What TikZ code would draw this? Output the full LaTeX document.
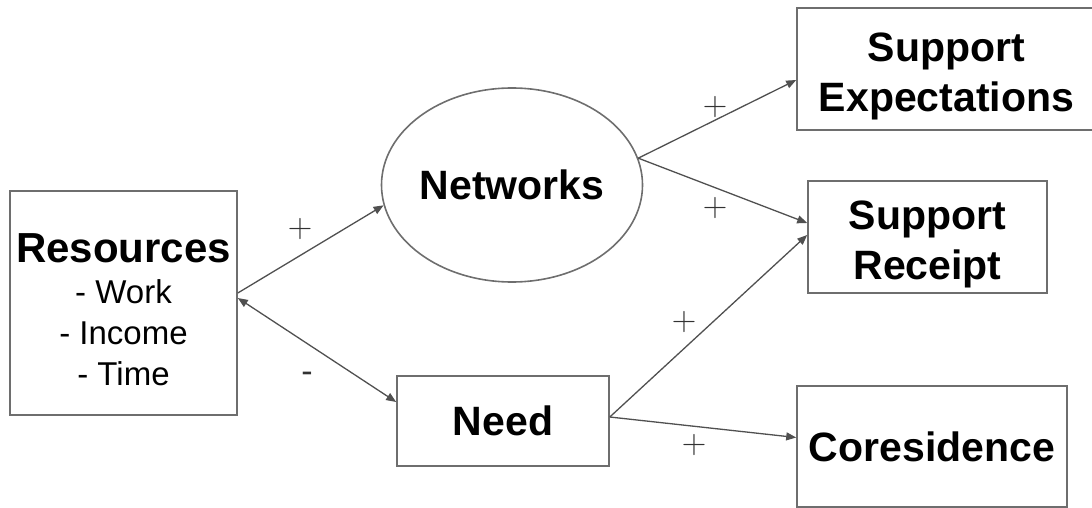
\documentclass[tikz,border=0pt]{standalone}
\usepackage{fontspec}
\setmainfont{Liberation Sans}
\newfontfamily\signfont{Latin Modern Roman}
\usetikzlibrary{arrows.meta,shapes.geometric}

\begin{document}
\begin{tikzpicture}[x=1pt,y=1pt,yscale=-1,xscale=1,
  box/.style={draw={rgb, 255:red, 110; green, 110; blue, 110 },line width=1.6pt,inner sep=0pt,align=center,
    font=\fontsize{41}{50}\selectfont\bfseries},
  lnk/.style={draw={rgb, 255:red, 80; green, 80; blue, 80 },line width=1.3pt,-{Triangle[length=10pt,width=8pt]}},
  sgn/.style={inner sep=0pt,font=\signfont\fontsize{34}{34}\selectfont,text={rgb, 255:red, 50; green, 50; blue, 50 }}]
\useasboundingbox (0,0) rectangle (1092,508);

%Shape: Rectangle [resources]
\node[box,minimum width=227pt,minimum height=224pt,font=\fontsize{33}{41}\selectfont] (res) at (123.5,303)
  {\rule{0pt}{42pt}{\fontsize{42}{41}\selectfont\bfseries Resources}\\ - Work\\ - Income\\ - Time};
%Shape: Ellipse [networks]
\node[box,ellipse,minimum width=238pt,minimum height=194pt] (net) at (512,185) {Networks};
%Shape: Rectangle [need]
\node[box,minimum width=212pt,minimum height=90pt] (need) at (503,421) {Need};
%Shape: Rectangle [outcomes]
\node[box,minimum width=299pt,minimum height=122pt] (sexp) at (946.5,69) {\rule{0pt}{43pt}Support\\Expectations};
\node[box,minimum width=239pt,minimum height=112pt] (srec) at (927.5,237) {\rule{0pt}{43pt}Support\\Receipt};
\node[box,minimum width=270pt,minimum height=121pt] (cores) at (932,446.5) {Coresidence};

%Straight Lines
\draw[lnk] ([yshift=-10pt]res.east) -- (net.189);
\draw[lnk,{Triangle[length=10pt,width=8pt]}-{Triangle[length=10pt,width=8pt]}] ([yshift=-5pt]res.east) -- ([yshift=-19pt]need.west);
\draw[lnk] (net.12) -- ([yshift=11pt]sexp.west);
\draw[lnk] (net.12) -- ([yshift=-14pt]srec.west);
\draw[lnk] ([yshift=-4pt]need.east) -- ([yshift=-2pt]srec.west);
\draw[lnk] ([yshift=-4pt]need.east) -- ([yshift=-9pt]cores.west);

%Signs
\node[sgn] (s1) at (300,229) {+};
\node[sgn,font=\fontsize{34}{34}\selectfont] (s2) at (307,377) {-};
\node[sgn] (s3) at (715,107) {+};
\node[sgn] (s4) at (715,208) {+};
\node[sgn] (s5) at (684,322) {+};
\node[sgn] (s6) at (694,445) {+};

\end{tikzpicture}
\end{document}
